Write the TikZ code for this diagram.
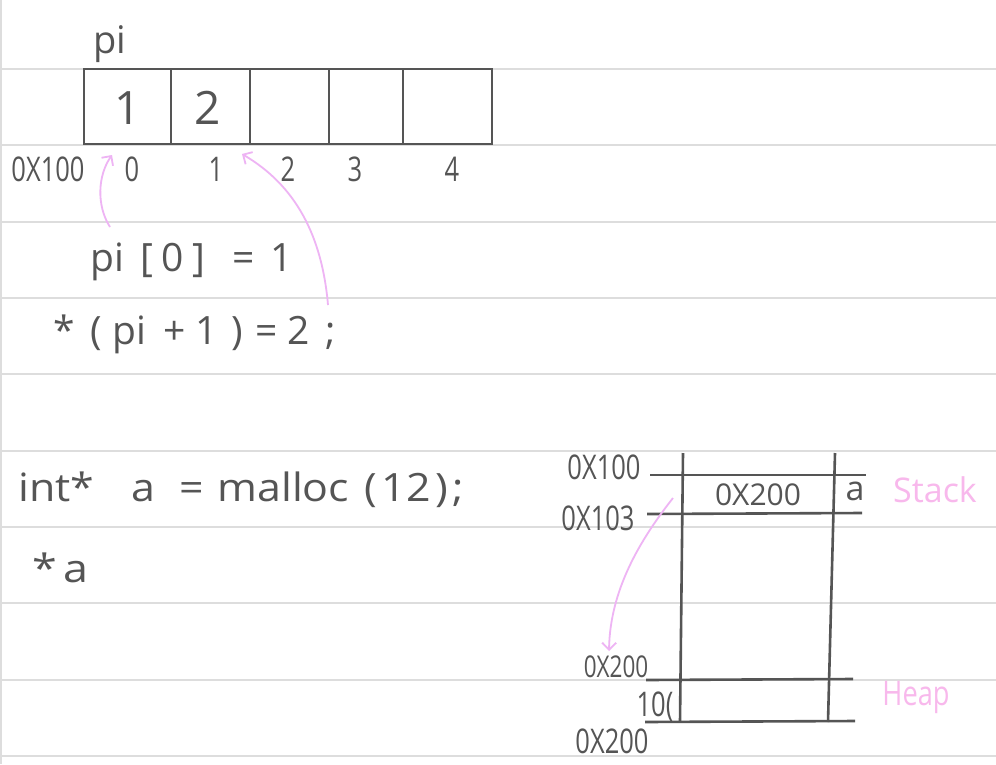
\documentclass[tikz,border=0pt]{standalone}
\usepackage{fontspec}
\setmainfont{Open Sans}
\usetikzlibrary{arrows.meta}
\definecolor{ink}{HTML}{555555}
\definecolor{rule}{HTML}{DDDDDD}
\definecolor{arrowpink}{HTML}{EEB4F4}
\definecolor{labelpink}{HTML}{F8B8EC}
\tikzset{
  x=1pt, y=-1pt,
  ruleline/.style={draw=rule, line width=1.5pt},
  memline/.style={draw=ink, line width=2.6pt},
  hand/.style={text=ink, inner sep=0pt, xscale=0.75, font=\fontsize{34}{36}\selectfont},
  code/.style={text=ink, inner sep=0pt, font=\fontsize{39}{41}\selectfont},
  pinktext/.style={text=labelpink, inner sep=0pt, font=\fontsize{34}{36}\selectfont},
  pinkarrow/.style={draw=arrowpink, line width=1.8pt, -{Straight Barb[length=7pt,width=14pt]}},
}
\begin{document}
\begin{tikzpicture}
\fill[white] (0,0) rectangle (996,764);
\useasboundingbox (0,0) rectangle (996,764);
% ruled paper
\foreach \yy in {69,145,222,298,374,451,527,603,680,756}
  \draw[ruleline] (0,\yy) -- (996,\yy);
\draw[ruleline] (1,0) -- (1,764);

% array pi
\node[text=ink, inner sep=0pt, font=\fontsize{38}{40}\selectfont] (pilabel) at (110,44) {pi};
\draw[memline] (84,69) rectangle (492,144);
\foreach \xx in {171,250,329,403}
  \draw[memline] (\xx,69) -- (\xx,144);
\node[text=ink, inner sep=0pt, font=\fontsize{46}{48}\selectfont] (v1) at (128,108) {1};
\node[text=ink, inner sep=0pt, font=\fontsize{46}{48}\selectfont] (v2) at (208,108) {2};
\node[hand] (base) at (48,169) {0X100};
\node[hand] (i0) at (132,169) {0};
\node[hand] (i1) at (216,169) {1};
\node[hand] (i2) at (288,169) {2};
\node[hand] (i3) at (355,169) {3};
\node[hand] (i4) at (452,169) {4};
\coordinate (tip0) at (112,155);
\coordinate (tip1) at (242,154);

% code
\node[code, anchor=west] (line1) at (90,262)
  {pi\hspace{17pt}[\hspace{8pt}0\hspace{8pt}]\hspace{28pt}=\hspace{15pt}1};
\node[code, anchor=west] (line2) at (53,334)
  {*\hspace{16pt}(\hspace{10pt}pi\hspace{17pt}+\hspace{10pt}1\hspace{14pt})\hspace{12pt}=\hspace{10pt}2\hspace{16pt};};
\coordinate (from0) at (110,227);
\coordinate (from1) at (328,305);
\draw[pinkarrow] (from0) .. controls (96,205) and (98,175) .. (tip0);
\draw[pinkarrow] (from1) .. controls (322,235) and (295,185) .. (tip1);

\node[code, anchor=west, xscale=1.1] (line3) at (18,490)
  {int*\hspace{34pt}a\hspace{22pt}=\hspace{12pt}malloc\hspace{14pt}(\hspace{4pt}12\hspace{4pt})\hspace{4pt};};
\node[code, anchor=west, xscale=1.15] (line4) at (32,568) {*\hspace{6pt}a};

% memory diagram
\draw[memline] (683,453) -- (680,722);
\draw[memline] (835,453) -- (828,722);
\draw[memline] (650,475) -- (866,475);
\draw[memline] (647,514) -- (862,513);
\draw[memline] (646,680) -- (853,679);
\draw[memline] (645,722) -- (855,721);
\node[hand] (a100) at (604,467) {0X100};
\node[hand] (a103) at (598,518) {0X103};
\node[text=ink, inner sep=0pt, font=\fontsize{30}{32}\selectfont] (cell) at (758,495) {0X200};
\node[text=ink, inner sep=0pt, font=\fontsize{34}{36}\selectfont] (avar) at (855,491) {a};
\node[pinktext] (stack) at (935,490) {Stack};
\node[hand, font=\fontsize{30}{32}\selectfont] (h200a) at (616,667) {0X200};
\node[hand] (ten) at (655,707) {10(};
\node[hand] (h200b) at (612,741) {0X200};
\node[pinktext, xscale=0.8] (heap) at (916,697) {Heap};
\coordinate (pfrom) at (673,498);
\coordinate (ptip) at (609,651);
\draw[pinkarrow] (pfrom) .. controls (640,540) and (610,590) .. (ptip);
\end{tikzpicture}
\end{document}
